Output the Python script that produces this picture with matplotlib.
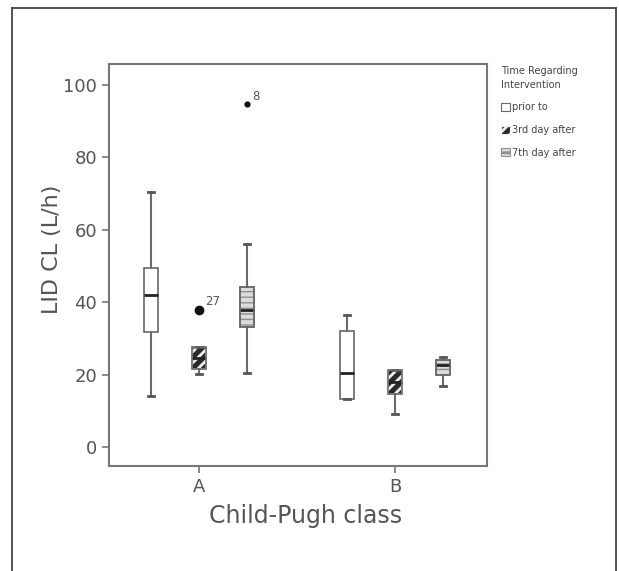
import matplotlib
matplotlib.use("Agg")
import matplotlib.pyplot as plt
from matplotlib.patches import PathPatch, Patch
from matplotlib.lines import Line2D

plt.rcParams["hatch.linewidth"] = 2.0

# ---- data ----
groups = ["A", "B"]
series = ["prior to", "3rd day after", "7th day after"]
# each: [whislo, q1, med, q3, whishi]
stats_A = [[14.2, 31.9, 42.0, 49.4, 70.4],
           [20.3, 21.7, 24.5, 27.7, 27.7],
           [20.5, 33.1, 38.0, 44.3, 56.1]]
stats_B = [[13.4, 13.4, 20.5, 32.1, 36.5],
           [9.1, 14.6, 18.0, 21.3, 21.3],
           [16.9, 19.9, 22.7, 24.0, 25.0]]
outliers_A = [[], [38.0], [94.7]]
outliers_B = [[], [], []]
outlier_labels_A = [[], ["27"], ["8"]]
yticks = [0, 20, 40, 60, 80, 100]

fig = plt.figure(figsize=(6.19, 5.71), dpi=100)
ax = fig.add_axes([109/619, 1-466/571, (487-109)/619, (466-64)/571])

offsets = [-0.245, 0.0, 0.245]
width = 0.075
styles = [
    dict(face="white", hatch=None, hcol=None, hlw=None),
    dict(face="#2a2a2a", hatch="///", hcol="#f0f0f0", hlw=2.0),
    dict(face="#dcdcdc", hatch="---", hcol="#909090", hlw=1.0),
]
edge = "#666666"


def set_hlw(p, lw):
    if lw is not None and hasattr(p, "set_hatch_linewidth"):
        p.set_hatch_linewidth(lw)


all_stats = [stats_A, stats_B]
all_out = [outliers_A, outliers_B]
for gi, g in enumerate(groups):
    for si in range(3):
        lo, q1, med, q3, hi = all_stats[gi][si]
        st = dict(whislo=lo, q1=q1, med=med, q3=q3, whishi=hi, fliers=[])
        pos = gi + offsets[si]
        r = ax.bxp([st], positions=[pos], widths=width, patch_artist=True,
                   showfliers=False, capwidths=0.03,
                   boxprops=dict(facecolor=styles[si]["face"], edgecolor=edge, linewidth=1.2),
                   whiskerprops=dict(color="#6a6a6a", linewidth=1.5),
                   capprops=dict(color="#555555", linewidth=2.0),
                   medianprops=dict(color="#222222", linewidth=2.0))
        box = r["boxes"][0]
        if styles[si]["hatch"]:
            box.set_edgecolor(styles[si]["hcol"])
            box.set_hatch(styles[si]["hatch"])
            set_hlw(box, styles[si]["hlw"])
            outline = PathPatch(box.get_path(), fill=False, edgecolor=edge,
                                linewidth=1.2, zorder=box.get_zorder() + 0.5)
            ax.add_patch(outline)
        outs = all_out[gi][si]
        if outs:
            ms = 6 if si == 1 else 3.5
            ax.plot([pos] * len(outs), outs, "o", color="#111111", ms=ms, zorder=5)
            if gi == 0:
                for v, lab in zip(outs, outlier_labels_A[si]):
                    ax.annotate(lab, (pos, v), xytext=(4, 3), textcoords="offset points",
                                fontsize=8.5, color="#555555")

ax.set_xlim(-0.46, 1.47)
ax.set_ylim(-5.2, 105.8)
ax.set_xticks([0, 1])
ax.set_xticklabels(groups)
ax.set_yticks(yticks)
ax.tick_params(axis="both", colors="#777777", labelcolor="#555555",
               labelsize=13, length=5, width=1.2)
for sp in ax.spines.values():
    sp.set_color("#777777")
    sp.set_linewidth(1.5)
ax.set_ylabel("LID CL (L/h)", fontsize=16, color="#555555")
ax.yaxis.set_label_coords(-0.124, 0.54)
ax.set_xlabel("Child-Pugh class", fontsize=17, color="#555555")
ax.xaxis.set_label_coords(0.52, -0.095)

# legend
handles = []
for si in range(3):
    h = Patch(facecolor=styles[si]["face"], edgecolor=styles[si]["hcol"] or edge,
              hatch=styles[si]["hatch"], linewidth=0.8)
    set_hlw(h, styles[si]["hlw"])
    handles.append(h)
leg = fig.legend(handles, series, title="Time Regarding\nIntervention",
                 loc="upper left", bbox_to_anchor=(492/619, 1-57/571),
                 frameon=False, fontsize=7, title_fontsize=7,
                 handlelength=0.9, handleheight=0.9, handletextpad=0.3,
                 labelspacing=1.3, alignment="left")
for t in leg.get_texts():
    t.set_color("#444444")
leg.get_title().set_color("#444444")
leg.get_title().set_linespacing(1.5)

# outer frame (left, top, right)
fig.add_artist(Line2D([12/619, 12/619], [0, 1-8/571], color="#444444", lw=1.3))
fig.add_artist(Line2D([12/619, 616/619], [1-8/571, 1-8/571], color="#444444", lw=1.3))
fig.add_artist(Line2D([616/619, 616/619], [0, 1-8/571], color="#444444", lw=1.3))

fig.savefig("out.png", dpi=100)
